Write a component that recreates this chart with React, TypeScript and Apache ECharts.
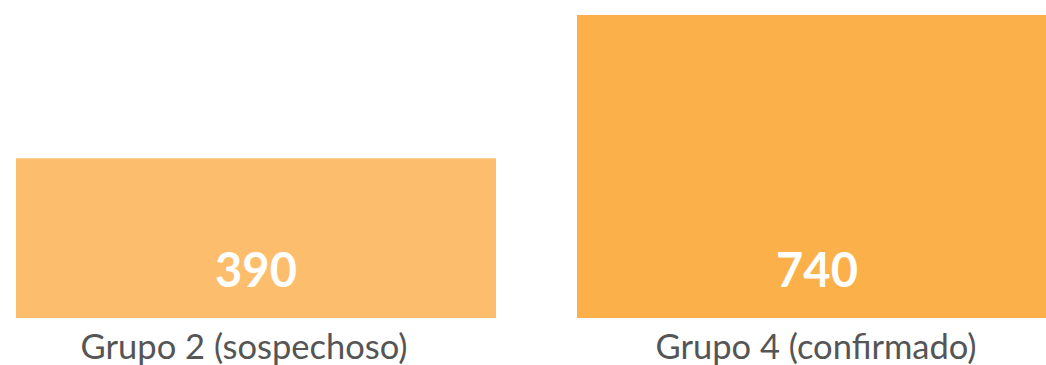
import React, { useEffect, useRef } from "react";
import * as echarts from "echarts";

const categories = ["Grupo 2 (sospechoso)", "Grupo 4 (confirmado)"];
const values = [390, 740];
const barColors = ["#FCBE6C", "#FCB04A"];

export default function App() {
  const ref = useRef<HTMLDivElement>(null);
  useEffect(() => {
    document.body.style.margin = "0";
    const chart = echarts.init(ref.current!, null, { renderer: "svg" });
    chart.setOption({
      animation: false,
      grid: { left: -24.5, width: 1122, top: 15, bottom: 47, outerBoundsMode: "none", containLabel: false },
      xAxis: {
        type: "category",
        data: [
          { value: categories[0], textStyle: { padding: [0, 24, 0, 0] } },
          { value: categories[1], textStyle: { padding: [0, 2, 0, 0] } },
        ],
        axisLine: { show: false },
        axisTick: { show: false },
        axisLabel: {
          color: "#555555",
          fontFamily: "Lato",
          fontSize: 34.5,
          lineHeight: 34,
          margin: 10,
        },
      },
      yAxis: {
        type: "value",
        min: 0,
        max: 740,
        show: false,
        splitLine: { show: false },
      },
      series: [
        {
          type: "bar",
          barWidth: 480,
          data: values.map((v, i) => ({ value: v, itemStyle: { color: barColors[i] } })),
          label: {
            show: true,
            position: "insideBottom",
            distance: 26,
            color: "#ffffff",
            fontFamily: "Lato",
            fontWeight: "bold",
            fontSize: 47,
          },
        },
      ],
    });
    return () => chart.dispose();
  }, []);
  return <div ref={ref} style={{ width: 1046, height: 365 }} />;
}
